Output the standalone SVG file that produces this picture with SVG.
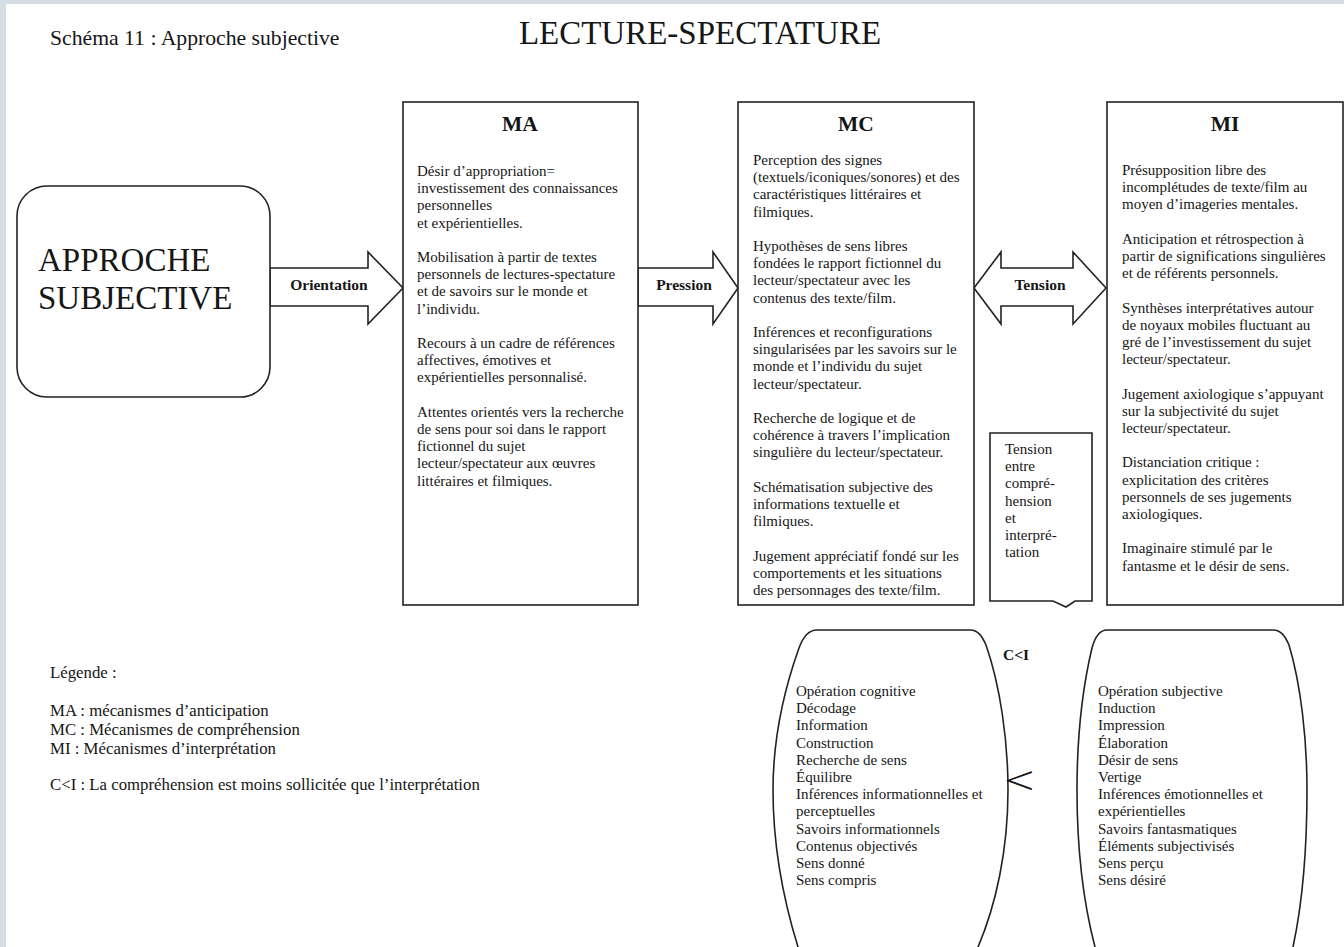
<svg xmlns="http://www.w3.org/2000/svg" width="1344" height="947" viewBox="0 0 1344 947">
  <style>
    text { font-family: "Liberation Serif", "Times New Roman", serif; fill: #161616; }
    .body { font-size: 15px; }
    .head { font-size: 21.5px; font-weight: bold; text-anchor: middle; }
    .lbl { font-size: 15.5px; font-weight: bold; text-anchor: middle; }
    .leg { font-size: 16.8px; }
    .frame { fill: #ffffff; stroke: #222222; stroke-width: 1.6; }
    .arrow { fill: #ffffff; stroke: #222222; stroke-width: 1.6; stroke-linejoin: miter; }
  </style>

  <!-- page -->
  <rect x="0" y="0" width="1344" height="947" fill="#d3dde3"/>
  <rect x="6" y="4" width="1338" height="943" fill="#ffffff"/>

  <!-- headings -->
  <text x="50" y="45" style="font-size:21.7px">Schéma 11 : Approche subjective</text>
  <text x="700" y="44" style="font-size:33px" text-anchor="middle">LECTURE-SPECTATURE</text>

  <!-- connectors -->
  <g id="connectors">
    <polygon class="arrow" points="270,268 368,268 368,252 403,288 368,324 368,306 270,306"/>
    <polygon class="arrow" points="638,268 713,268 713,252 738,288 713,324 713,306 638,306"/>
    <polygon class="arrow" points="974,288 1001,252 1001,268 1073,268 1073,252 1106,288 1073,324 1073,306 1001,306 1001,324"/>
    <text class="lbl" x="329" y="290">Orientation</text>
    <text class="lbl" x="684" y="290">Pression</text>
    <text class="lbl" x="1040" y="290">Tension</text>
  </g>

  <!-- source node -->
  <g id="approche">
    <rect class="frame" x="17" y="186" width="253" height="211" rx="30" ry="30"/>
    <text x="38" y="271" style="font-size:33px">APPROCHE</text>
    <text x="38" y="309" style="font-size:33px">SUBJECTIVE</text>
  </g>

  <!-- anticipation -->
  <g id="ma">
    <rect class="frame" x="403" y="102" width="235" height="503"/>
    <text class="head" x="520" y="131">MA</text>
    <text class="body" x="417" y="176">
      <tspan x="417">Désir d’appropriation=</tspan>
      <tspan x="417" dy="17.2">investissement des connaissances</tspan>
      <tspan x="417" dy="17.2">personnelles</tspan>
      <tspan x="417" dy="17.2">et expérientielles.</tspan>
      <tspan x="417" dy="34.4">Mobilisation à partir de textes</tspan>
      <tspan x="417" dy="17.2">personnels de lectures-spectature</tspan>
      <tspan x="417" dy="17.2">et de savoirs sur le monde et</tspan>
      <tspan x="417" dy="17.2">l’individu.</tspan>
      <tspan x="417" dy="34.4">Recours à un cadre de références</tspan>
      <tspan x="417" dy="17.2">affectives, émotives et</tspan>
      <tspan x="417" dy="17.2">expérientielles personnalisé.</tspan>
      <tspan x="417" dy="34.4">Attentes orientés vers la recherche</tspan>
      <tspan x="417" dy="17.2">de sens pour soi dans le rapport</tspan>
      <tspan x="417" dy="17.2">fictionnel du sujet</tspan>
      <tspan x="417" dy="17.2">lecteur/spectateur aux œuvres</tspan>
      <tspan x="417" dy="17.2">littéraires et filmiques.</tspan>
    </text>
  </g>

  <!-- comprehension -->
  <g id="mc">
    <rect class="frame" x="738" y="102" width="236" height="503"/>
    <text class="head" x="856" y="131">MC</text>
    <text class="body" x="753" y="165">
      <tspan x="753">Perception des signes</tspan>
      <tspan x="753" dy="17.2">(textuels/iconiques/sonores) et des</tspan>
      <tspan x="753" dy="17.2">caractéristiques littéraires et</tspan>
      <tspan x="753" dy="17.2">filmiques.</tspan>
      <tspan x="753" dy="34.4">Hypothèses de sens libres</tspan>
      <tspan x="753" dy="17.2">fondées le rapport fictionnel du</tspan>
      <tspan x="753" dy="17.2">lecteur/spectateur avec les</tspan>
      <tspan x="753" dy="17.2">contenus des texte/film.</tspan>
      <tspan x="753" dy="34.4">Inférences et reconfigurations</tspan>
      <tspan x="753" dy="17.2">singularisées par les savoirs sur le</tspan>
      <tspan x="753" dy="17.2">monde et l’individu du sujet</tspan>
      <tspan x="753" dy="17.2">lecteur/spectateur.</tspan>
      <tspan x="753" dy="34.4">Recherche de logique et de</tspan>
      <tspan x="753" dy="17.2">cohérence à travers l’implication</tspan>
      <tspan x="753" dy="17.2">singulière du lecteur/spectateur.</tspan>
      <tspan x="753" dy="34.4">Schématisation subjective des</tspan>
      <tspan x="753" dy="17.2">informations textuelle et</tspan>
      <tspan x="753" dy="17.2">filmiques.</tspan>
      <tspan x="753" dy="34.4">Jugement appréciatif fondé sur les</tspan>
      <tspan x="753" dy="17.2">comportements et les situations</tspan>
      <tspan x="753" dy="17.2">des personnages des texte/film.</tspan>
    </text>
  </g>

  <!-- interpretation -->
  <g id="mi">
    <rect class="frame" x="1107" y="102" width="236" height="503"/>
    <text class="head" x="1225" y="131">MI</text>
    <text class="body" x="1122" y="175">
      <tspan x="1122">Présupposition libre des</tspan>
      <tspan x="1122" dy="17.2">incomplétudes de texte/film au</tspan>
      <tspan x="1122" dy="17.2">moyen d’imageries mentales.</tspan>
      <tspan x="1122" dy="34.4">Anticipation et rétrospection à</tspan>
      <tspan x="1122" dy="17.2">partir de significations singulières</tspan>
      <tspan x="1122" dy="17.2">et de référents personnels.</tspan>
      <tspan x="1122" dy="34.4">Synthèses interprétatives autour</tspan>
      <tspan x="1122" dy="17.2">de noyaux mobiles fluctuant au</tspan>
      <tspan x="1122" dy="17.2">gré de l’investissement du sujet</tspan>
      <tspan x="1122" dy="17.2">lecteur/spectateur.</tspan>
      <tspan x="1122" dy="34.4">Jugement axiologique s’appuyant</tspan>
      <tspan x="1122" dy="17.2">sur la subjectivité du sujet</tspan>
      <tspan x="1122" dy="17.2">lecteur/spectateur.</tspan>
      <tspan x="1122" dy="34.4">Distanciation critique :</tspan>
      <tspan x="1122" dy="17.2">explicitation des critères</tspan>
      <tspan x="1122" dy="17.2">personnels de ses jugements</tspan>
      <tspan x="1122" dy="17.2">axiologiques.</tspan>
      <tspan x="1122" dy="34.4">Imaginaire stimulé par le</tspan>
      <tspan x="1122" dy="17.2">fantasme et le désir de sens.</tspan>
    </text>
  </g>

  <!-- callout between MC and MI -->
  <g id="tension-note">
    <path class="frame" d="M990,433 L1092,433 L1092,601 L1075,601 L1066,607 L1053,601 L990,601 Z"/>
    <text class="body" x="1005" y="454">
      <tspan x="1005">Tension</tspan>
      <tspan x="1005" dy="17.2">entre</tspan>
      <tspan x="1005" dy="17.2">compré-</tspan>
      <tspan x="1005" dy="17.2">hension</tspan>
      <tspan x="1005" dy="17.2">et</tspan>
      <tspan x="1005" dy="17.2">interpré-</tspan>
      <tspan x="1005" dy="17.2">tation</tspan>
    </text>
  </g>

  <!-- comprehension side -->
  <g id="oval-c">
    <path class="frame" d="M817,630 L970,630 C978,630 982,636 986,645 C1000,685 1008,740 1008,790 C1008,850 996,905 978,947 L975,965 L800,965 L798,947 C785,905 773,850 773,790 C773,740 784,690 799,648 C803,637 808,630 817,630 Z"/>
    <text class="body" x="796" y="696">
      <tspan x="796">Opération cognitive</tspan>
      <tspan x="796" dy="17.2">Décodage</tspan>
      <tspan x="796" dy="17.2">Information</tspan>
      <tspan x="796" dy="17.2">Construction</tspan>
      <tspan x="796" dy="17.2">Recherche de sens</tspan>
      <tspan x="796" dy="17.2">Équilibre</tspan>
      <tspan x="796" dy="17.2">Inférences informationnelles et</tspan>
      <tspan x="796" dy="17.2">perceptuelles</tspan>
      <tspan x="796" dy="17.2">Savoirs informationnels</tspan>
      <tspan x="796" dy="17.2">Contenus objectivés</tspan>
      <tspan x="796" dy="17.2">Sens donné</tspan>
      <tspan x="796" dy="17.2">Sens compris</tspan>
    </text>
  </g>

  <!-- comparison mark -->
  <g id="compare">
    <text x="1003" y="660" style="font-size:15.5px;font-weight:bold">C&lt;I</text>
    <text transform="translate(1004,794) scale(1.35,1)" x="0" y="0" style="font-size:40px">&lt;</text>
  </g>

  <!-- interpretation side -->
  <g id="oval-i">
    <path class="frame" d="M1107,630 L1273,630 C1281,630 1285,636 1289,645 C1301,685 1307,740 1307,790 C1307,850 1302,905 1293,947 L1290,965 L1097,965 L1095,947 C1084,905 1077,850 1077,790 C1077,740 1082,690 1092,648 C1095,637 1100,630 1107,630 Z"/>
    <text class="body" x="1098" y="696">
      <tspan x="1098">Opération subjective</tspan>
      <tspan x="1098" dy="17.2">Induction</tspan>
      <tspan x="1098" dy="17.2">Impression</tspan>
      <tspan x="1098" dy="17.2">Élaboration</tspan>
      <tspan x="1098" dy="17.2">Désir de sens</tspan>
      <tspan x="1098" dy="17.2">Vertige</tspan>
      <tspan x="1098" dy="17.2">Inférences émotionnelles et</tspan>
      <tspan x="1098" dy="17.2">expérientielles</tspan>
      <tspan x="1098" dy="17.2">Savoirs fantasmatiques</tspan>
      <tspan x="1098" dy="17.2">Éléments subjectivisés</tspan>
      <tspan x="1098" dy="17.2">Sens perçu</tspan>
      <tspan x="1098" dy="17.2">Sens désiré</tspan>
    </text>
  </g>

  <!-- legend -->
  <g id="legend">
    <text class="leg" x="50" y="678">Légende :</text>
    <text class="leg" x="50" y="716">MA : mécanismes d’anticipation</text>
    <text class="leg" x="50" y="735">MC : Mécanismes de compréhension</text>
    <text class="leg" x="50" y="754">MI : Mécanismes d’interprétation</text>
    <text class="leg" x="50" y="790">C&lt;I : La compréhension est moins sollicitée que l’interprétation</text>
  </g>
</svg>
